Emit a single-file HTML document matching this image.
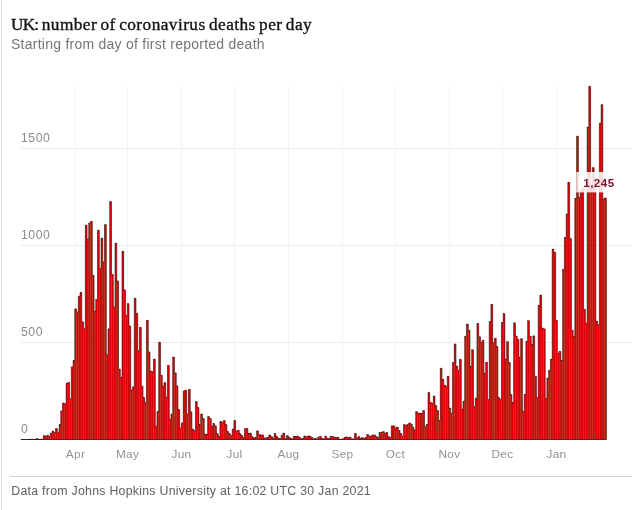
<!DOCTYPE html>
<html lang="en"><head><meta charset="utf-8"><title>UK: number of coronavirus deaths per day</title>
<style>
html,body{margin:0;padding:0;background:#fff;}
body{width:632px;height:510px;overflow:hidden;position:relative;font-family:"Liberation Sans",sans-serif;}
.lb{position:absolute;left:1px;top:0;width:1px;height:510px;background:#dcdcdc;}
h1{position:absolute;left:11px;top:14.3px;margin:0;font-family:"Liberation Serif",serif;font-weight:400;font-size:17.3px;line-height:22px;color:#121212;white-space:nowrap;letter-spacing:0.44px;word-spacing:-1.4px;-webkit-text-stroke:0.35px #121212;}
.sub{position:absolute;left:11px;top:35px;margin:0;font-size:14px;line-height:18px;color:#767676;white-space:nowrap;letter-spacing:0.25px;}
svg{position:absolute;left:0;top:0;}
.foot{position:absolute;left:10px;right:0;top:476px;border-top:1px solid #d4d4d4;}
.foot p{margin:0;position:absolute;left:1.3px;top:6px;font-size:12.3px;line-height:16px;color:#606060;white-space:nowrap;letter-spacing:0.28px;}
</style></head><body>
<div class="lb"></div>
<h1><span style="letter-spacing:-0.8px">UK:</span> number of coronavirus deaths per day</h1>
<p class="sub">Starting from day of first reported death</p>
<svg width="632" height="510" viewBox="0 0 632 510">
<g stroke="#ececec" stroke-width="1" shape-rendering="crispEdges">
<line x1="21" x2="632" y1="342.5" y2="342.5"/><line x1="21" x2="632" y1="245.5" y2="245.5"/><line x1="21" x2="632" y1="148.5" y2="148.5"/>
</g>
<g stroke="#f2f2f2" stroke-width="1" shape-rendering="crispEdges">
<line x1="75.5" x2="75.5" y1="86" y2="439"/><line x1="127.5" x2="127.5" y1="86" y2="439"/><line x1="181.5" x2="181.5" y1="86" y2="439"/><line x1="234.5" x2="234.5" y1="86" y2="439"/><line x1="288.5" x2="288.5" y1="86" y2="439"/><line x1="342.5" x2="342.5" y1="86" y2="439"/><line x1="395.5" x2="395.5" y1="86" y2="439"/><line x1="449.5" x2="449.5" y1="86" y2="439"/><line x1="502.5" x2="502.5" y1="86" y2="439"/><line x1="556.5" x2="556.5" y1="86" y2="439"/>
</g>
<g font-family="'Liberation Sans',sans-serif" font-size="12.2" letter-spacing="0.55" fill="#8a8a8a">
<text x="21" y="432.9">0</text><text x="21" y="335.9">500</text><text x="21" y="238.9">1000</text><text x="21" y="141.9">1500</text>
</g>
<g font-family="'Liberation Sans',sans-serif" font-size="11.8" letter-spacing="0.3" fill="#929292">
<text x="75.5" y="457.8" text-anchor="middle">Apr</text><text x="127.5" y="457.8" text-anchor="middle">May</text><text x="181.5" y="457.8" text-anchor="middle">Jun</text><text x="234.5" y="457.8" text-anchor="middle">Jul</text><text x="288.5" y="457.8" text-anchor="middle">Aug</text><text x="342.5" y="457.8" text-anchor="middle">Sep</text><text x="395.5" y="457.8" text-anchor="middle">Oct</text><text x="449.5" y="457.8" text-anchor="middle">Nov</text><text x="502.5" y="457.8" text-anchor="middle">Dec</text><text x="556.5" y="457.8" text-anchor="middle">Jan</text>
</g>
<line x1="21" x2="606.5" y1="439.5" y2="439.5" stroke="#333" stroke-width="1"/>
<g fill="#e40000" stroke="#700000" stroke-width="0.2">
<rect x="29.39" y="439.31" width="1.650" height="0.19"/><rect x="31.14" y="439.31" width="1.650" height="0.19"/><rect x="34.64" y="439.31" width="1.650" height="0.19"/><rect x="36.39" y="438.72" width="1.650" height="0.78"/><rect x="39.88" y="439.11" width="1.650" height="0.39"/><rect x="41.63" y="439.31" width="1.650" height="0.19"/><rect x="43.38" y="435.81" width="1.650" height="3.69"/><rect x="45.13" y="436.59" width="1.650" height="2.91"/><rect x="46.88" y="435.23" width="1.650" height="4.27"/><rect x="48.63" y="436.40" width="1.650" height="3.10"/><rect x="50.37" y="433.10" width="1.650" height="6.40"/><rect x="52.12" y="431.16" width="1.650" height="8.34"/><rect x="53.87" y="432.52" width="1.650" height="6.98"/><rect x="55.62" y="428.64" width="1.650" height="10.86"/><rect x="57.37" y="432.71" width="1.650" height="6.79"/><rect x="59.12" y="424.76" width="1.650" height="14.74"/><rect x="60.87" y="410.98" width="1.650" height="28.52"/><rect x="62.61" y="403.03" width="1.650" height="36.47"/><rect x="64.36" y="404.00" width="1.650" height="35.50"/><rect x="66.11" y="383.63" width="1.650" height="55.87"/><rect x="67.86" y="382.47" width="1.650" height="57.03"/><rect x="69.61" y="398.96" width="1.650" height="40.54"/><rect x="71.36" y="366.95" width="1.650" height="72.55"/><rect x="73.11" y="360.55" width="1.650" height="78.95"/><rect x="74.85" y="308.95" width="1.650" height="130.55"/><rect x="76.60" y="312.05" width="1.650" height="127.45"/><rect x="78.35" y="296.14" width="1.650" height="143.36"/><rect x="80.10" y="292.46" width="1.650" height="147.04"/><rect x="81.85" y="321.94" width="1.650" height="117.56"/><rect x="83.60" y="328.93" width="1.650" height="110.57"/><rect x="85.34" y="225.15" width="1.650" height="214.35"/><rect x="87.09" y="239.31" width="1.650" height="200.19"/><rect x="88.84" y="223.01" width="1.650" height="216.49"/><rect x="90.59" y="221.46" width="1.650" height="218.04"/><rect x="92.34" y="275.39" width="1.650" height="164.11"/><rect x="94.09" y="311.27" width="1.650" height="128.23"/><rect x="95.84" y="299.44" width="1.650" height="140.06"/><rect x="97.58" y="230.19" width="1.650" height="209.31"/><rect x="99.33" y="268.40" width="1.650" height="171.10"/><rect x="101.08" y="238.14" width="1.650" height="201.36"/><rect x="102.83" y="262.00" width="1.650" height="177.50"/><rect x="104.58" y="224.76" width="1.650" height="214.74"/><rect x="106.33" y="354.92" width="1.650" height="84.58"/><rect x="108.08" y="328.93" width="1.650" height="110.57"/><rect x="109.82" y="201.67" width="1.650" height="237.83"/><rect x="111.57" y="274.61" width="1.650" height="164.89"/><rect x="113.32" y="307.01" width="1.650" height="132.49"/><rect x="115.07" y="243.19" width="1.650" height="196.31"/><rect x="116.82" y="281.01" width="1.650" height="158.49"/><rect x="118.57" y="369.08" width="1.650" height="70.42"/><rect x="120.31" y="377.42" width="1.650" height="62.08"/><rect x="122.06" y="251.33" width="1.650" height="188.17"/><rect x="123.81" y="289.94" width="1.650" height="149.56"/><rect x="125.56" y="315.54" width="1.650" height="123.96"/><rect x="127.31" y="303.71" width="1.650" height="135.79"/><rect x="129.06" y="326.02" width="1.650" height="113.48"/><rect x="130.81" y="390.03" width="1.650" height="49.47"/><rect x="132.55" y="386.93" width="1.650" height="52.57"/><rect x="134.30" y="298.28" width="1.650" height="141.22"/><rect x="136.05" y="313.41" width="1.650" height="126.09"/><rect x="137.80" y="350.85" width="1.650" height="88.65"/><rect x="139.55" y="327.38" width="1.650" height="112.12"/><rect x="141.30" y="386.15" width="1.650" height="53.35"/><rect x="143.05" y="397.60" width="1.650" height="41.90"/><rect x="144.79" y="402.64" width="1.650" height="36.86"/><rect x="146.54" y="320.39" width="1.650" height="119.11"/><rect x="148.29" y="352.01" width="1.650" height="87.49"/><rect x="150.04" y="371.22" width="1.650" height="68.28"/><rect x="151.79" y="371.60" width="1.650" height="67.90"/><rect x="153.54" y="359.19" width="1.650" height="80.31"/><rect x="155.28" y="426.31" width="1.650" height="13.19"/><rect x="157.03" y="411.57" width="1.650" height="27.93"/><rect x="158.78" y="342.31" width="1.650" height="97.19"/><rect x="160.53" y="375.29" width="1.650" height="64.21"/><rect x="162.28" y="386.15" width="1.650" height="53.35"/><rect x="164.03" y="382.86" width="1.650" height="56.64"/><rect x="165.78" y="397.02" width="1.650" height="42.48"/><rect x="167.52" y="365.40" width="1.650" height="74.10"/><rect x="169.27" y="419.13" width="1.650" height="20.37"/><rect x="171.02" y="414.09" width="1.650" height="25.41"/><rect x="172.77" y="357.06" width="1.650" height="82.44"/><rect x="174.52" y="372.96" width="1.650" height="66.54"/><rect x="176.27" y="385.96" width="1.650" height="53.54"/><rect x="178.02" y="409.82" width="1.650" height="29.68"/><rect x="179.76" y="428.05" width="1.650" height="11.45"/><rect x="181.51" y="423.01" width="1.650" height="16.49"/><rect x="183.26" y="391.00" width="1.650" height="48.50"/><rect x="185.01" y="390.23" width="1.650" height="49.27"/><rect x="186.76" y="414.09" width="1.650" height="25.41"/><rect x="188.51" y="389.45" width="1.650" height="50.05"/><rect x="190.25" y="411.95" width="1.650" height="27.55"/><rect x="192.00" y="429.22" width="1.650" height="10.28"/><rect x="193.75" y="430.58" width="1.650" height="8.92"/><rect x="195.50" y="401.67" width="1.650" height="37.83"/><rect x="197.25" y="407.69" width="1.650" height="31.81"/><rect x="199.00" y="424.76" width="1.650" height="14.74"/><rect x="200.75" y="414.09" width="1.650" height="25.41"/><rect x="202.49" y="418.55" width="1.650" height="20.95"/><rect x="204.24" y="434.26" width="1.650" height="5.24"/><rect x="205.99" y="434.26" width="1.650" height="5.24"/><rect x="207.74" y="416.61" width="1.650" height="22.89"/><rect x="209.49" y="418.55" width="1.650" height="20.95"/><rect x="211.24" y="426.70" width="1.650" height="12.80"/><rect x="212.98" y="423.79" width="1.650" height="15.71"/><rect x="214.73" y="425.92" width="1.650" height="13.58"/><rect x="216.48" y="433.68" width="1.650" height="5.82"/><rect x="218.23" y="436.78" width="1.650" height="2.72"/><rect x="219.98" y="421.65" width="1.650" height="17.85"/><rect x="221.73" y="422.24" width="1.650" height="17.26"/><rect x="223.48" y="420.68" width="1.650" height="18.82"/><rect x="225.22" y="424.76" width="1.650" height="14.74"/><rect x="226.97" y="431.74" width="1.650" height="7.76"/><rect x="228.72" y="433.68" width="1.650" height="5.82"/><rect x="230.47" y="435.62" width="1.650" height="3.88"/><rect x="232.22" y="429.22" width="1.650" height="10.28"/><rect x="233.97" y="420.68" width="1.650" height="18.82"/><rect x="235.72" y="431.16" width="1.650" height="8.34"/><rect x="237.46" y="430.19" width="1.650" height="9.31"/><rect x="239.21" y="433.68" width="1.650" height="5.82"/><rect x="240.96" y="435.62" width="1.650" height="3.88"/><rect x="242.71" y="437.56" width="1.650" height="1.94"/><rect x="244.46" y="428.83" width="1.650" height="10.67"/><rect x="246.21" y="428.64" width="1.650" height="10.86"/><rect x="247.96" y="433.68" width="1.650" height="5.82"/><rect x="249.70" y="433.10" width="1.650" height="6.40"/><rect x="251.45" y="436.78" width="1.650" height="2.72"/><rect x="253.20" y="438.14" width="1.650" height="1.36"/><rect x="254.95" y="437.56" width="1.650" height="1.94"/><rect x="256.70" y="430.96" width="1.650" height="8.54"/><rect x="258.45" y="434.65" width="1.650" height="4.85"/><rect x="260.19" y="435.04" width="1.650" height="4.46"/><rect x="261.94" y="435.04" width="1.650" height="4.46"/><rect x="263.69" y="438.14" width="1.650" height="1.36"/><rect x="265.44" y="437.75" width="1.650" height="1.75"/><rect x="267.19" y="437.56" width="1.650" height="1.94"/><rect x="268.94" y="435.04" width="1.650" height="4.46"/><rect x="270.69" y="436.78" width="1.650" height="2.72"/><rect x="272.43" y="438.14" width="1.650" height="1.36"/><rect x="274.18" y="433.68" width="1.650" height="5.82"/><rect x="275.93" y="436.78" width="1.650" height="2.72"/><rect x="277.68" y="438.14" width="1.650" height="1.36"/><rect x="279.43" y="438.72" width="1.650" height="0.78"/><rect x="281.18" y="435.62" width="1.650" height="3.88"/><rect x="282.93" y="433.10" width="1.650" height="6.40"/><rect x="284.67" y="438.72" width="1.650" height="0.78"/><rect x="286.42" y="435.81" width="1.650" height="3.69"/><rect x="288.17" y="437.17" width="1.650" height="2.33"/><rect x="289.92" y="438.72" width="1.650" height="0.78"/><rect x="291.67" y="438.92" width="1.650" height="0.58"/><rect x="293.42" y="436.20" width="1.650" height="3.30"/><rect x="295.16" y="436.78" width="1.650" height="2.72"/><rect x="296.91" y="436.20" width="1.650" height="3.30"/><rect x="298.66" y="437.17" width="1.650" height="2.33"/><rect x="300.41" y="438.92" width="1.650" height="0.58"/><rect x="302.16" y="438.53" width="1.650" height="0.97"/><rect x="303.91" y="436.01" width="1.650" height="3.49"/><rect x="305.66" y="436.98" width="1.650" height="2.52"/><rect x="307.40" y="436.01" width="1.650" height="3.49"/><rect x="309.15" y="436.20" width="1.650" height="3.30"/><rect x="310.90" y="437.37" width="1.650" height="2.13"/><rect x="312.65" y="438.92" width="1.650" height="0.58"/><rect x="314.40" y="438.53" width="1.650" height="0.97"/><rect x="316.15" y="438.92" width="1.650" height="0.58"/><rect x="317.90" y="437.17" width="1.650" height="2.33"/><rect x="319.64" y="436.40" width="1.650" height="3.10"/><rect x="321.39" y="438.34" width="1.650" height="1.16"/><rect x="323.14" y="439.11" width="1.650" height="0.39"/><rect x="324.89" y="436.20" width="1.650" height="3.30"/><rect x="326.64" y="438.34" width="1.650" height="1.16"/><rect x="328.39" y="438.72" width="1.650" height="0.78"/><rect x="330.13" y="436.59" width="1.650" height="2.91"/><rect x="331.88" y="436.59" width="1.650" height="2.91"/><rect x="333.63" y="437.17" width="1.650" height="2.33"/><rect x="335.38" y="437.75" width="1.650" height="1.75"/><rect x="337.13" y="437.17" width="1.650" height="2.33"/><rect x="338.88" y="439.31" width="1.650" height="0.19"/><rect x="340.63" y="439.11" width="1.650" height="0.39"/><rect x="342.37" y="438.92" width="1.650" height="0.58"/><rect x="344.12" y="437.56" width="1.650" height="1.94"/><rect x="345.87" y="436.98" width="1.650" height="2.52"/><rect x="347.62" y="437.56" width="1.650" height="1.94"/><rect x="349.37" y="437.17" width="1.650" height="2.33"/><rect x="351.12" y="439.11" width="1.650" height="0.39"/><rect x="352.87" y="438.92" width="1.650" height="0.58"/><rect x="354.61" y="433.49" width="1.650" height="6.01"/><rect x="356.36" y="437.95" width="1.650" height="1.55"/><rect x="358.11" y="436.78" width="1.650" height="2.72"/><rect x="359.86" y="438.34" width="1.650" height="1.16"/><rect x="361.61" y="437.75" width="1.650" height="1.75"/><rect x="363.36" y="438.53" width="1.650" height="0.97"/><rect x="365.10" y="437.75" width="1.650" height="1.75"/><rect x="366.85" y="434.65" width="1.650" height="4.85"/><rect x="368.60" y="436.01" width="1.650" height="3.49"/><rect x="370.35" y="436.01" width="1.650" height="3.49"/><rect x="372.10" y="435.04" width="1.650" height="4.46"/><rect x="373.85" y="435.04" width="1.650" height="4.46"/><rect x="375.60" y="436.78" width="1.650" height="2.72"/><rect x="377.34" y="437.75" width="1.650" height="1.75"/><rect x="379.09" y="432.71" width="1.650" height="6.79"/><rect x="380.84" y="432.32" width="1.650" height="7.18"/><rect x="382.59" y="431.74" width="1.650" height="7.76"/><rect x="384.34" y="433.10" width="1.650" height="6.40"/><rect x="386.09" y="432.71" width="1.650" height="6.79"/><rect x="387.84" y="436.78" width="1.650" height="2.72"/><rect x="389.58" y="437.56" width="1.650" height="1.94"/><rect x="391.33" y="425.92" width="1.650" height="13.58"/><rect x="393.08" y="425.92" width="1.650" height="13.58"/><rect x="394.83" y="428.05" width="1.650" height="11.45"/><rect x="396.58" y="427.08" width="1.650" height="12.42"/><rect x="398.33" y="430.58" width="1.650" height="8.92"/><rect x="400.07" y="433.68" width="1.650" height="5.82"/><rect x="401.82" y="436.20" width="1.650" height="3.30"/><rect x="403.57" y="424.76" width="1.650" height="14.74"/><rect x="405.32" y="425.53" width="1.650" height="13.97"/><rect x="407.07" y="424.56" width="1.650" height="14.94"/><rect x="408.82" y="423.01" width="1.650" height="16.49"/><rect x="410.57" y="424.18" width="1.650" height="15.32"/><rect x="412.31" y="427.28" width="1.650" height="12.22"/><rect x="414.06" y="430.19" width="1.650" height="9.31"/><rect x="415.81" y="411.76" width="1.650" height="27.74"/><rect x="417.56" y="413.12" width="1.650" height="26.38"/><rect x="419.31" y="413.12" width="1.650" height="26.38"/><rect x="421.06" y="413.70" width="1.650" height="25.80"/><rect x="422.81" y="410.60" width="1.650" height="28.90"/><rect x="424.55" y="426.70" width="1.650" height="12.80"/><rect x="426.30" y="424.56" width="1.650" height="14.94"/><rect x="428.05" y="392.75" width="1.650" height="46.75"/><rect x="429.80" y="402.64" width="1.650" height="36.86"/><rect x="431.55" y="403.22" width="1.650" height="36.28"/><rect x="433.30" y="396.05" width="1.650" height="43.45"/><rect x="435.04" y="405.75" width="1.650" height="33.75"/><rect x="436.79" y="410.60" width="1.650" height="28.90"/><rect x="438.54" y="420.30" width="1.650" height="19.20"/><rect x="440.29" y="368.31" width="1.650" height="71.19"/><rect x="442.04" y="379.36" width="1.650" height="60.14"/><rect x="443.79" y="385.18" width="1.650" height="54.32"/><rect x="445.54" y="386.35" width="1.650" height="53.15"/><rect x="447.28" y="376.26" width="1.650" height="63.24"/><rect x="449.03" y="408.07" width="1.650" height="31.43"/><rect x="450.78" y="413.12" width="1.650" height="26.38"/><rect x="452.53" y="362.49" width="1.650" height="77.01"/><rect x="454.28" y="344.06" width="1.650" height="95.44"/><rect x="456.03" y="366.17" width="1.650" height="73.33"/><rect x="457.78" y="370.63" width="1.650" height="68.87"/><rect x="459.52" y="359.38" width="1.650" height="80.12"/><rect x="461.27" y="409.24" width="1.650" height="30.26"/><rect x="463.02" y="401.87" width="1.650" height="37.63"/><rect x="464.77" y="336.30" width="1.650" height="103.20"/><rect x="466.52" y="324.08" width="1.650" height="115.42"/><rect x="468.27" y="330.29" width="1.650" height="109.21"/><rect x="470.01" y="366.56" width="1.650" height="72.94"/><rect x="471.76" y="349.88" width="1.650" height="89.62"/><rect x="473.51" y="406.91" width="1.650" height="32.59"/><rect x="475.26" y="398.18" width="1.650" height="41.32"/><rect x="477.01" y="323.50" width="1.650" height="116.00"/><rect x="478.76" y="336.88" width="1.650" height="102.62"/><rect x="480.51" y="342.31" width="1.650" height="97.19"/><rect x="482.25" y="340.37" width="1.650" height="99.13"/><rect x="484.00" y="373.35" width="1.650" height="66.15"/><rect x="485.75" y="362.29" width="1.650" height="77.21"/><rect x="487.50" y="399.54" width="1.650" height="39.96"/><rect x="489.25" y="321.56" width="1.650" height="117.94"/><rect x="491.00" y="304.49" width="1.650" height="135.01"/><rect x="492.75" y="342.89" width="1.650" height="96.61"/><rect x="494.49" y="338.43" width="1.650" height="101.07"/><rect x="496.24" y="346.58" width="1.650" height="92.92"/><rect x="497.99" y="397.79" width="1.650" height="41.71"/><rect x="499.74" y="399.73" width="1.650" height="39.77"/><rect x="501.49" y="322.53" width="1.650" height="116.97"/><rect x="503.24" y="313.80" width="1.650" height="125.70"/><rect x="504.98" y="359.19" width="1.650" height="80.31"/><rect x="506.73" y="341.73" width="1.650" height="97.77"/><rect x="508.48" y="362.49" width="1.650" height="77.01"/><rect x="510.23" y="394.69" width="1.650" height="44.81"/><rect x="511.98" y="402.84" width="1.650" height="36.66"/><rect x="513.73" y="322.91" width="1.650" height="116.59"/><rect x="515.48" y="336.11" width="1.650" height="103.39"/><rect x="517.22" y="339.40" width="1.650" height="100.10"/><rect x="518.97" y="357.25" width="1.650" height="82.25"/><rect x="520.72" y="338.82" width="1.650" height="100.68"/><rect x="522.47" y="411.57" width="1.650" height="27.93"/><rect x="524.22" y="394.50" width="1.650" height="45.00"/><rect x="525.97" y="341.34" width="1.650" height="98.16"/><rect x="527.71" y="320.78" width="1.650" height="118.72"/><rect x="529.46" y="336.30" width="1.650" height="103.20"/><rect x="531.21" y="344.64" width="1.650" height="94.86"/><rect x="532.96" y="335.91" width="1.650" height="103.59"/><rect x="534.71" y="376.26" width="1.650" height="63.24"/><rect x="536.46" y="397.79" width="1.650" height="41.71"/><rect x="538.21" y="305.46" width="1.650" height="134.04"/><rect x="539.95" y="295.17" width="1.650" height="144.33"/><rect x="541.70" y="328.15" width="1.650" height="111.35"/><rect x="543.45" y="328.93" width="1.650" height="110.57"/><rect x="545.20" y="398.76" width="1.650" height="40.74"/><rect x="546.95" y="378.20" width="1.650" height="61.30"/><rect x="548.70" y="370.25" width="1.650" height="69.25"/><rect x="550.45" y="359.19" width="1.650" height="80.31"/><rect x="552.19" y="249.20" width="1.650" height="190.30"/><rect x="553.94" y="252.50" width="1.650" height="187.00"/><rect x="555.69" y="320.59" width="1.650" height="118.91"/><rect x="557.44" y="353.18" width="1.650" height="86.32"/><rect x="559.19" y="351.43" width="1.650" height="88.07"/><rect x="560.94" y="360.55" width="1.650" height="78.95"/><rect x="562.68" y="269.37" width="1.650" height="170.13"/><rect x="564.43" y="237.56" width="1.650" height="201.94"/><rect x="566.18" y="214.09" width="1.650" height="225.41"/><rect x="567.93" y="182.47" width="1.650" height="257.03"/><rect x="569.68" y="238.72" width="1.650" height="200.78"/><rect x="571.43" y="330.29" width="1.650" height="109.21"/><rect x="573.18" y="336.88" width="1.650" height="102.62"/><rect x="574.92" y="198.37" width="1.650" height="241.13"/><rect x="576.67" y="136.11" width="1.650" height="303.39"/><rect x="578.42" y="197.40" width="1.650" height="242.10"/><rect x="580.17" y="191.20" width="1.650" height="248.30"/><rect x="581.92" y="188.29" width="1.650" height="251.21"/><rect x="583.67" y="309.34" width="1.650" height="130.16"/><rect x="585.42" y="323.30" width="1.650" height="116.20"/><rect x="587.16" y="127.18" width="1.650" height="312.32"/><rect x="588.91" y="86.44" width="1.650" height="353.06"/><rect x="590.66" y="189.26" width="1.650" height="250.24"/><rect x="592.41" y="167.73" width="1.650" height="271.77"/><rect x="594.16" y="178.01" width="1.650" height="261.49"/><rect x="595.91" y="321.17" width="1.650" height="118.33"/><rect x="597.65" y="324.66" width="1.650" height="114.84"/><rect x="599.40" y="123.11" width="1.650" height="316.39"/><rect x="601.15" y="104.87" width="1.650" height="334.63"/><rect x="602.90" y="199.15" width="1.650" height="240.35"/><rect x="604.65" y="197.99" width="1.650" height="241.51"/>
</g>
<path d="M20.60 439.50V439.50H22.35V439.50H24.10V439.50H25.85V439.50H27.59V439.50H29.34V439.31H31.09V439.31H32.84V439.50H34.59V439.31H36.34V438.72H38.09V439.50H39.83V439.11H41.58V439.31H43.33V435.81H45.08V436.59H46.83V435.23H48.58V436.40H50.32V433.10H52.07V431.16H53.82V432.52H55.57V428.64H57.32V432.71H59.07V424.76H60.82V410.98H62.56V403.03H64.31V404.00H66.06V383.63H67.81V382.47H69.56V398.96H71.31V366.95H73.06V360.55H74.80V308.95H76.55V312.05H78.30V296.14H80.05V292.46H81.80V321.94H83.55V328.93H85.29V225.15H87.04V239.31H88.79V223.01H90.54V221.46H92.29V275.39H94.04V311.27H95.79V299.44H97.53V230.19H99.28V268.40H101.03V238.14H102.78V262.00H104.53V224.76H106.28V354.92H108.03V328.93H109.77V201.67H111.52V274.61H113.27V307.01H115.02V243.19H116.77V281.01H118.52V369.08H120.26V377.42H122.01V251.33H123.76V289.94H125.51V315.54H127.26V303.71H129.01V326.02H130.76V390.03H132.50V386.93H134.25V298.28H136.00V313.41H137.75V350.85H139.50V327.38H141.25V386.15H143.00V397.60H144.74V402.64H146.49V320.39H148.24V352.01H149.99V371.22H151.74V371.60H153.49V359.19H155.23V426.31H156.98V411.57H158.73V342.31H160.48V375.29H162.23V386.15H163.98V382.86H165.73V397.02H167.47V365.40H169.22V419.13H170.97V414.09H172.72V357.06H174.47V372.96H176.22V385.96H177.97V409.82H179.71V428.05H181.46V423.01H183.21V391.00H184.96V390.23H186.71V414.09H188.46V389.45H190.20V411.95H191.95V429.22H193.70V430.58H195.45V401.67H197.20V407.69H198.95V424.76H200.70V414.09H202.44V418.55H204.19V434.26H205.94V434.26H207.69V416.61H209.44V418.55H211.19V426.70H212.93V423.79H214.68V425.92H216.43V433.68H218.18V436.78H219.93V421.65H221.68V422.24H223.43V420.68H225.17V424.76H226.92V431.74H228.67V433.68H230.42V435.62H232.17V429.22H233.92V420.68H235.67V431.16H237.41V430.19H239.16V433.68H240.91V435.62H242.66V437.56H244.41V428.83H246.16V428.64H247.91V433.68H249.65V433.10H251.40V436.78H253.15V438.14H254.90V437.56H256.65V430.96H258.40V434.65H260.14V435.04H261.89V435.04H263.64V438.14H265.39V437.75H267.14V437.56H268.89V435.04H270.64V436.78H272.38V438.14H274.13V433.68H275.88V436.78H277.63V438.14H279.38V438.72H281.13V435.62H282.88V433.10H284.62V438.72H286.37V435.81H288.12V437.17H289.87V438.72H291.62V438.92H293.37V436.20H295.11V436.78H296.86V436.20H298.61V437.17H300.36V438.92H302.11V438.53H303.86V436.01H305.61V436.98H307.35V436.01H309.10V436.20H310.85V437.37H312.60V438.92H314.35V438.53H316.10V438.92H317.85V437.17H319.59V436.40H321.34V438.34H323.09V439.11H324.84V436.20H326.59V438.34H328.34V438.72H330.08V436.59H331.83V436.59H333.58V437.17H335.33V437.75H337.08V437.17H338.83V439.31H340.58V439.11H342.32V438.92H344.07V437.56H345.82V436.98H347.57V437.56H349.32V437.17H351.07V439.11H352.81V438.92H354.56V433.49H356.31V437.95H358.06V436.78H359.81V438.34H361.56V437.75H363.31V438.53H365.05V437.75H366.80V434.65H368.55V436.01H370.30V436.01H372.05V435.04H373.80V435.04H375.55V436.78H377.29V437.75H379.04V432.71H380.79V432.32H382.54V431.74H384.29V433.10H386.04V432.71H387.79V436.78H389.53V437.56H391.28V425.92H393.03V425.92H394.78V428.05H396.53V427.08H398.28V430.58H400.02V433.68H401.77V436.20H403.52V424.76H405.27V425.53H407.02V424.56H408.77V423.01H410.52V424.18H412.26V427.28H414.01V430.19H415.76V411.76H417.51V413.12H419.26V413.12H421.01V413.70H422.75V410.60H424.50V426.70H426.25V424.56H428.00V392.75H429.75V402.64H431.50V403.22H433.25V396.05H434.99V405.75H436.74V410.60H438.49V420.30H440.24V368.31H441.99V379.36H443.74V385.18H445.49V386.35H447.23V376.26H448.98V408.07H450.73V413.12H452.48V362.49H454.23V344.06H455.98V366.17H457.73V370.63H459.47V359.38H461.22V409.24H462.97V401.87H464.72V336.30H466.47V324.08H468.22V330.29H469.96V366.56H471.71V349.88H473.46V406.91H475.21V398.18H476.96V323.50H478.71V336.88H480.46V342.31H482.20V340.37H483.95V373.35H485.70V362.29H487.45V399.54H489.20V321.56H490.95V304.49H492.69V342.89H494.44V338.43H496.19V346.58H497.94V397.79H499.69V399.73H501.44V322.53H503.19V313.80H504.93V359.19H506.68V341.73H508.43V362.49H510.18V394.69H511.93V402.84H513.68V322.91H515.43V336.11H517.17V339.40H518.92V357.25H520.67V338.82H522.42V411.57H524.17V394.50H525.92V341.34H527.66V320.78H529.41V336.30H531.16V344.64H532.91V335.91H534.66V376.26H536.41V397.79H538.16V305.46H539.90V295.17H541.65V328.15H543.40V328.93H545.15V398.76H546.90V378.20H548.65V370.25H550.40V359.19H552.14V249.20H553.89V252.50H555.64V320.59H557.39V353.18H559.14V351.43H560.89V360.55H562.63V269.37H564.38V237.56H566.13V214.09H567.88V182.47H569.63V238.72H571.38V330.29H573.13V336.88H574.87V198.37H576.62V136.11H578.37V197.40H580.12V191.20H581.87V188.29H583.62V309.34H585.37V323.30H587.11V127.18H588.86V86.44H590.61V189.26H592.36V167.73H594.11V178.01H595.86V321.17H597.61V324.66H599.35V123.11H601.10V104.87H602.85V199.15H604.60V197.99H606.35V439.50" fill="none" stroke="#3c080e" stroke-opacity="0.85" stroke-width="0.62" stroke-linejoin="miter"/>

<rect x="576.3" y="172" width="44.5" height="20.4" fill="#fff" fill-opacity="0.86"/>
<text x="583.2" y="187.2" font-family="'Liberation Sans',sans-serif" font-size="11.6" font-weight="bold" letter-spacing="0.5" fill="#7a1626">1,245</text>
</svg>
<div class="foot"><p>Data from Johns Hopkins University at 16:02 UTC 30 Jan 2021</p></div>
</body></html>
